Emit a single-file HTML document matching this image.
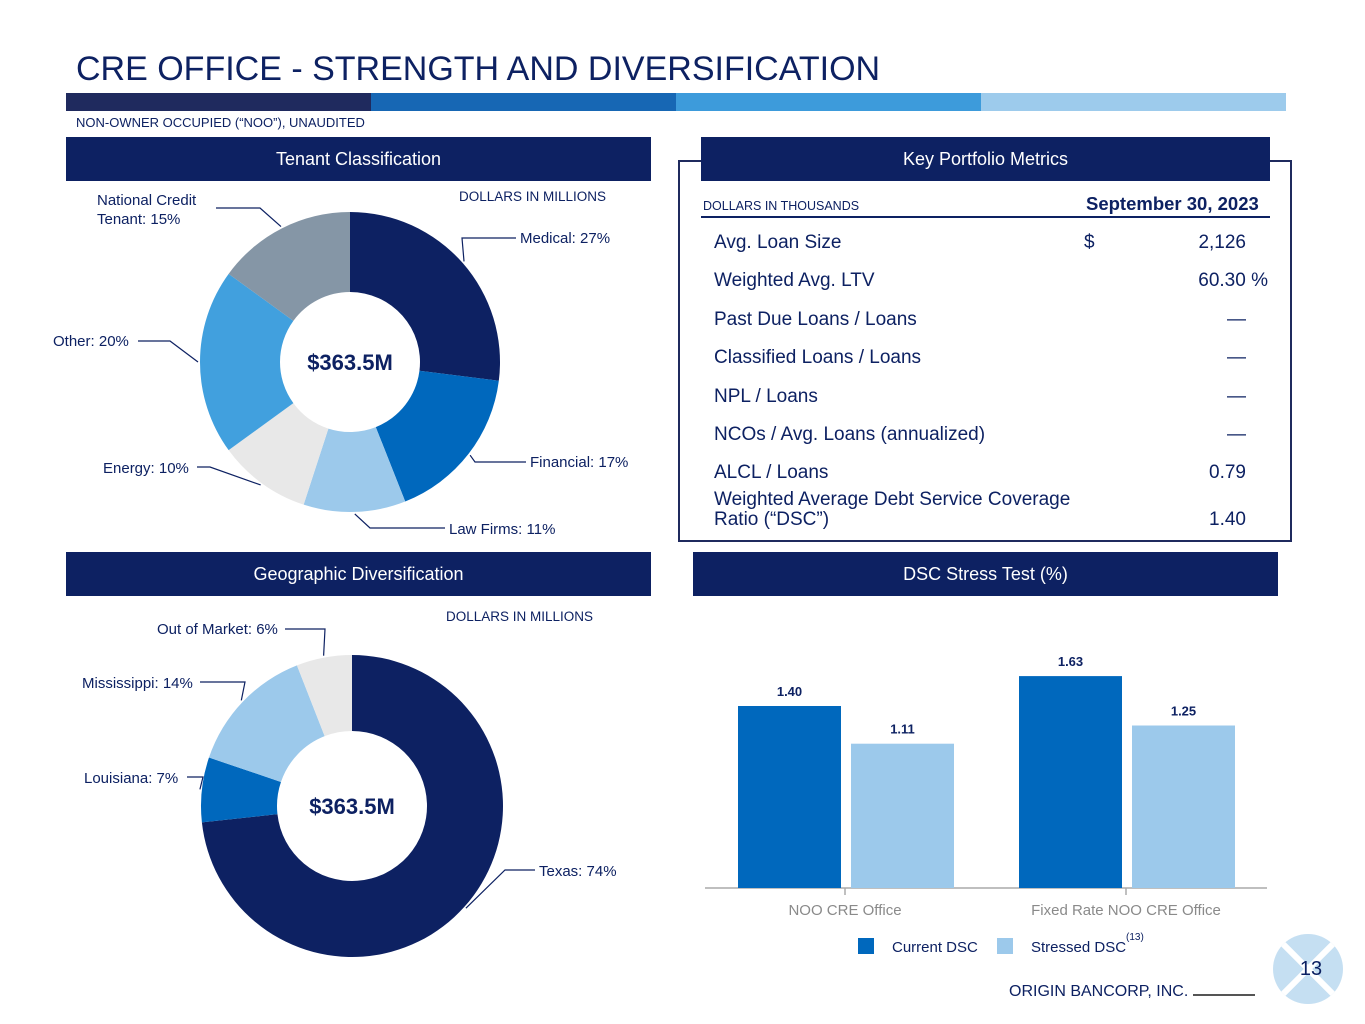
<!DOCTYPE html>
<html><head><meta charset="utf-8">
<style>
body{margin:0;width:1365px;height:1024px;background:#fff;font-family:"Liberation Sans",Arial,sans-serif;position:relative;overflow:hidden}
.a{position:absolute}
.hdr{position:absolute;background:#0d2162;color:#fff;font-size:18px;text-align:center;line-height:44px}
.lbl{position:absolute;font-size:14px;color:#0d2162;white-space:nowrap}
.row{position:absolute;left:714px;width:554px;font-size:19px;color:#0d2162}
.row span{position:absolute;right:22px}
</style></head><body>
<div class="a" style="left:76px;top:50px;font-size:34px;color:#0d2162">CRE OFFICE - STRENGTH AND DIVERSIFICATION</div>
<div class="a" style="left:66px;top:93px;width:1220px;height:18px;display:flex">
<div style="flex:1;background:#1f2a5e"></div><div style="flex:1;background:#1767b4"></div><div style="flex:1;background:#3d9bdb"></div><div style="flex:1;background:#9dcbec"></div></div>
<div class="a" style="left:76px;top:115px;font-size:13px;color:#0d2162">NON-OWNER OCCUPIED (“NOO”), UNAUDITED</div>

<div class="hdr" style="left:66px;top:137px;width:585px">Tenant Classification</div>
<div class="hdr" style="left:701px;top:137px;width:569px;z-index:2">Key Portfolio Metrics</div>
<div class="hdr" style="left:66px;top:552px;width:585px">Geographic Diversification</div>
<div class="hdr" style="left:693px;top:552px;width:585px">DSC Stress Test (%)</div>

<div class="lbl" style="left:459px;top:189px;font-size:13.5px">DOLLARS IN MILLIONS</div>
<div class="lbl" style="left:446px;top:609px;font-size:13.5px">DOLLARS IN MILLIONS</div>

<svg class="a" style="left:0;top:0" width="1365" height="1024" id="pies"></svg>

<div class="a" style="left:678px;top:160px;width:610px;height:378px;border:2px solid #1f2a5e"></div>
<div class="lbl" style="left:703px;top:199px;font-size:12.5px">DOLLARS IN THOUSANDS</div>
<div class="lbl" style="left:1086px;top:193px;font-size:18.5px;font-weight:bold">September 30, 2023</div>
<div class="a" style="left:701px;top:216px;width:569px;height:2px;background:#0d2162"></div>
<div class="row" style="top:232px">Avg. Loan Size<b style="position:absolute;left:370px;font-weight:normal">$</b><span>2,126</span></div>
<div class="row" style="top:270px">Weighted Avg. LTV<span style="right:0">60.30 %</span></div>
<div class="row" style="top:309px">Past Due Loans / Loans<span>—</span></div>
<div class="row" style="top:347px">Classified Loans / Loans<span>—</span></div>
<div class="row" style="top:386px">NPL / Loans<span>—</span></div>
<div class="row" style="top:424px">NCOs / Avg. Loans (annualized)<span>—</span></div>
<div class="row" style="top:462px">ALCL / Loans<span>0.79</span></div>
<div class="row" style="top:490px;line-height:20px">Weighted Average Debt Service Coverage<br>Ratio (“DSC”)<span style="top:20px">1.40</span></div>

<svg class="a" style="left:0;top:0" width="1365" height="1024" id="bars"></svg>

<div class="a" style="left:1273px;top:934px;width:70px;height:70px;border-radius:50%;background:#c5dff2;overflow:hidden">
<div style="position:absolute;left:32px;top:-10px;width:6px;height:90px;background:#fff;transform:rotate(45deg)"></div>
<div style="position:absolute;left:32px;top:-10px;width:6px;height:90px;background:#fff;transform:rotate(-45deg)"></div>
<div style="position:absolute;left:3px;top:24px;width:70px;text-align:center;font-size:20px;color:#0d2162">13</div></div>
<div class="a" style="left:1009px;top:983px;font-size:16px;color:#0d2162">ORIGIN BANCORP, INC. <span style="display:inline-block;width:62px;border-bottom:2px solid #555"></span></div>

<script>
const NS="http://www.w3.org/2000/svg";
const tenantLabels=["Medical: 27%","Financial: 17%","Law Firms: 11%","Energy: 10%","Other: 20%","National Credit Tenant: 15%"];
const tenantValues=[27,17,11,10,20,15];
const geoLabels=["Texas: 74%","Louisiana: 7%","Mississippi: 14%","Out of Market: 6%"];
const geoValues=[74,7,14,6];
const dscCategories=["NOO CRE Office","Fixed Rate NOO CRE Office"];
const currentDSC=[1.40,1.63];
const stressedDSC=[1.11,1.25];

function mk(p,t,a){const e=document.createElementNS(NS,t);for(const k in a)e.setAttribute(k,a[k]);p.appendChild(e);return e;}
function donut(svg,cx,cy,R,r,vals,cols,name,labelPos,center){
  const tot=vals.reduce((a,b)=>a+b,0);let acc=0;
  vals.forEach((v,i)=>{
    const a0=acc/tot*2*Math.PI,a1=(acc+v)/tot*2*Math.PI;acc+=v;
    const P=(rad,a)=>[cx+rad*Math.sin(a),cy-rad*Math.cos(a)];
    const lg=a1-a0>Math.PI?1:0;
    const [x0,y0]=P(R,a0),[x1,y1]=P(R,a1),[x2,y2]=P(r,a1),[x3,y3]=P(r,a0);
    const p=mk(svg,"path",{d:`M${x0},${y0}A${R},${R} 0 ${lg} 1 ${x1},${y1}L${x2},${y2}A${r},${r} 0 ${lg} 0 ${x3},${y3}Z`,fill:cols[i]});
    
    
    const am=(a0+a1)/2,[ex,ey]=P(R+2,am),lp=labelPos[i];
    mk(svg,"polyline",{points:`${ex},${ey} ${lp[2]},${lp[1]} ${lp[3]},${lp[1]}`,fill:"none",stroke:"#0d2162","stroke-width":1.2});
  });
  const t=mk(svg,"text",{x:cx,y:cy+8,"text-anchor":"middle","font-size":22,"font-weight":"bold",fill:"#0d2162"});
  t.textContent=center;
  
  
}
const pies=document.getElementById("pies");
donut(pies,350,362,150,70,tenantValues,["#0d2162","#0068bd","#9cc9eb","#e8e8e8","#41a0de","#8596a6"],"tenant",
 [[520,238,462,516],[530,462,475,526],[449,528,370,445],[103,467,210,197],[53,341,170,138],[97,208,260,216]],"$363.5M");
donut(pies,352,806,151,75,geoValues,["#0d2162","#0068bd","#9cc9eb","#e8e8e8"],"geo",
 [[539,870,505,535],[84,777,203,187],[82,682,245,200],[157,629,325,285]],"$363.5M");
function lbl(svg,txt,x,y,anchor){const t=mk(svg,"text",{x:x,y:y,"font-size":15,fill:"#0d2162","text-anchor":anchor||"start"});t.textContent=txt;
 
 return t;}
lbl(pies,"Medical: 27%",520,243);lbl(pies,"Financial: 17%",530,467);lbl(pies,"Law Firms: 11%",449,534);
lbl(pies,"Energy: 10%",103,473);lbl(pies,"Other: 20%",53,346);lbl(pies,"National Credit",97,205);lbl(pies,"Tenant: 15%",97,224);
lbl(pies,"Texas: 74%",539,876);lbl(pies,"Louisiana: 7%",84,783);lbl(pies,"Mississippi: 14%",82,688);lbl(pies,"Out of Market: 6%",157,634);

const bars=document.getElementById("bars");
const base=888,scale=130,groupC=[845,1126],bw=103;
const yv=v=>base-v*scale;
mk(bars,"line",{x1:705,x2:1267,y1:base,y2:base,stroke:"#aaa","stroke-width":1.5});
dscCategories.forEach((c,i)=>{
  mk(bars,"line",{x1:groupC[i],x2:groupC[i],y1:base,y2:base+7,stroke:"#aaa","stroke-width":1.5});
  const t=mk(bars,"text",{x:groupC[i],y:base+27,"text-anchor":"middle","font-size":15,fill:"#8a8a8a"});t.textContent=c;
  
  
  [[currentDSC,"#0068bd",-bw-4],[stressedDSC,"#9cc9eb",6]].forEach(([arr,col,off],s)=>{
    const x=groupC[i]+off,v=arr[i];
    const r=mk(bars,"rect",{x:x,y:yv(v),width:bw,height:v*scale,fill:col});
    
    
    const tv=mk(bars,"text",{x:x+bw/2,y:yv(v)-10,"text-anchor":"middle","font-size":13,"font-weight":"bold",fill:"#0d2162"});tv.textContent=v.toFixed(2);
    
    
  });
});
const lg=[["Current DSC","#0068bd",858],["Stressed DSC","#9cc9eb",997]];
lg.forEach(([n,c,x])=>{
  const r=mk(bars,"rect",{x:x,y:938,width:16,height:16,fill:c});
  
  
  const t=mk(bars,"text",{x:x+34,y:952,"font-size":15,fill:"#0d2162"});t.textContent=n;
  
  
});
const fn=mk(bars,"text",{x:1126,y:940,"font-size":10,fill:"#0d2162"});fn.textContent="(13)";
</script>
</body></html>
